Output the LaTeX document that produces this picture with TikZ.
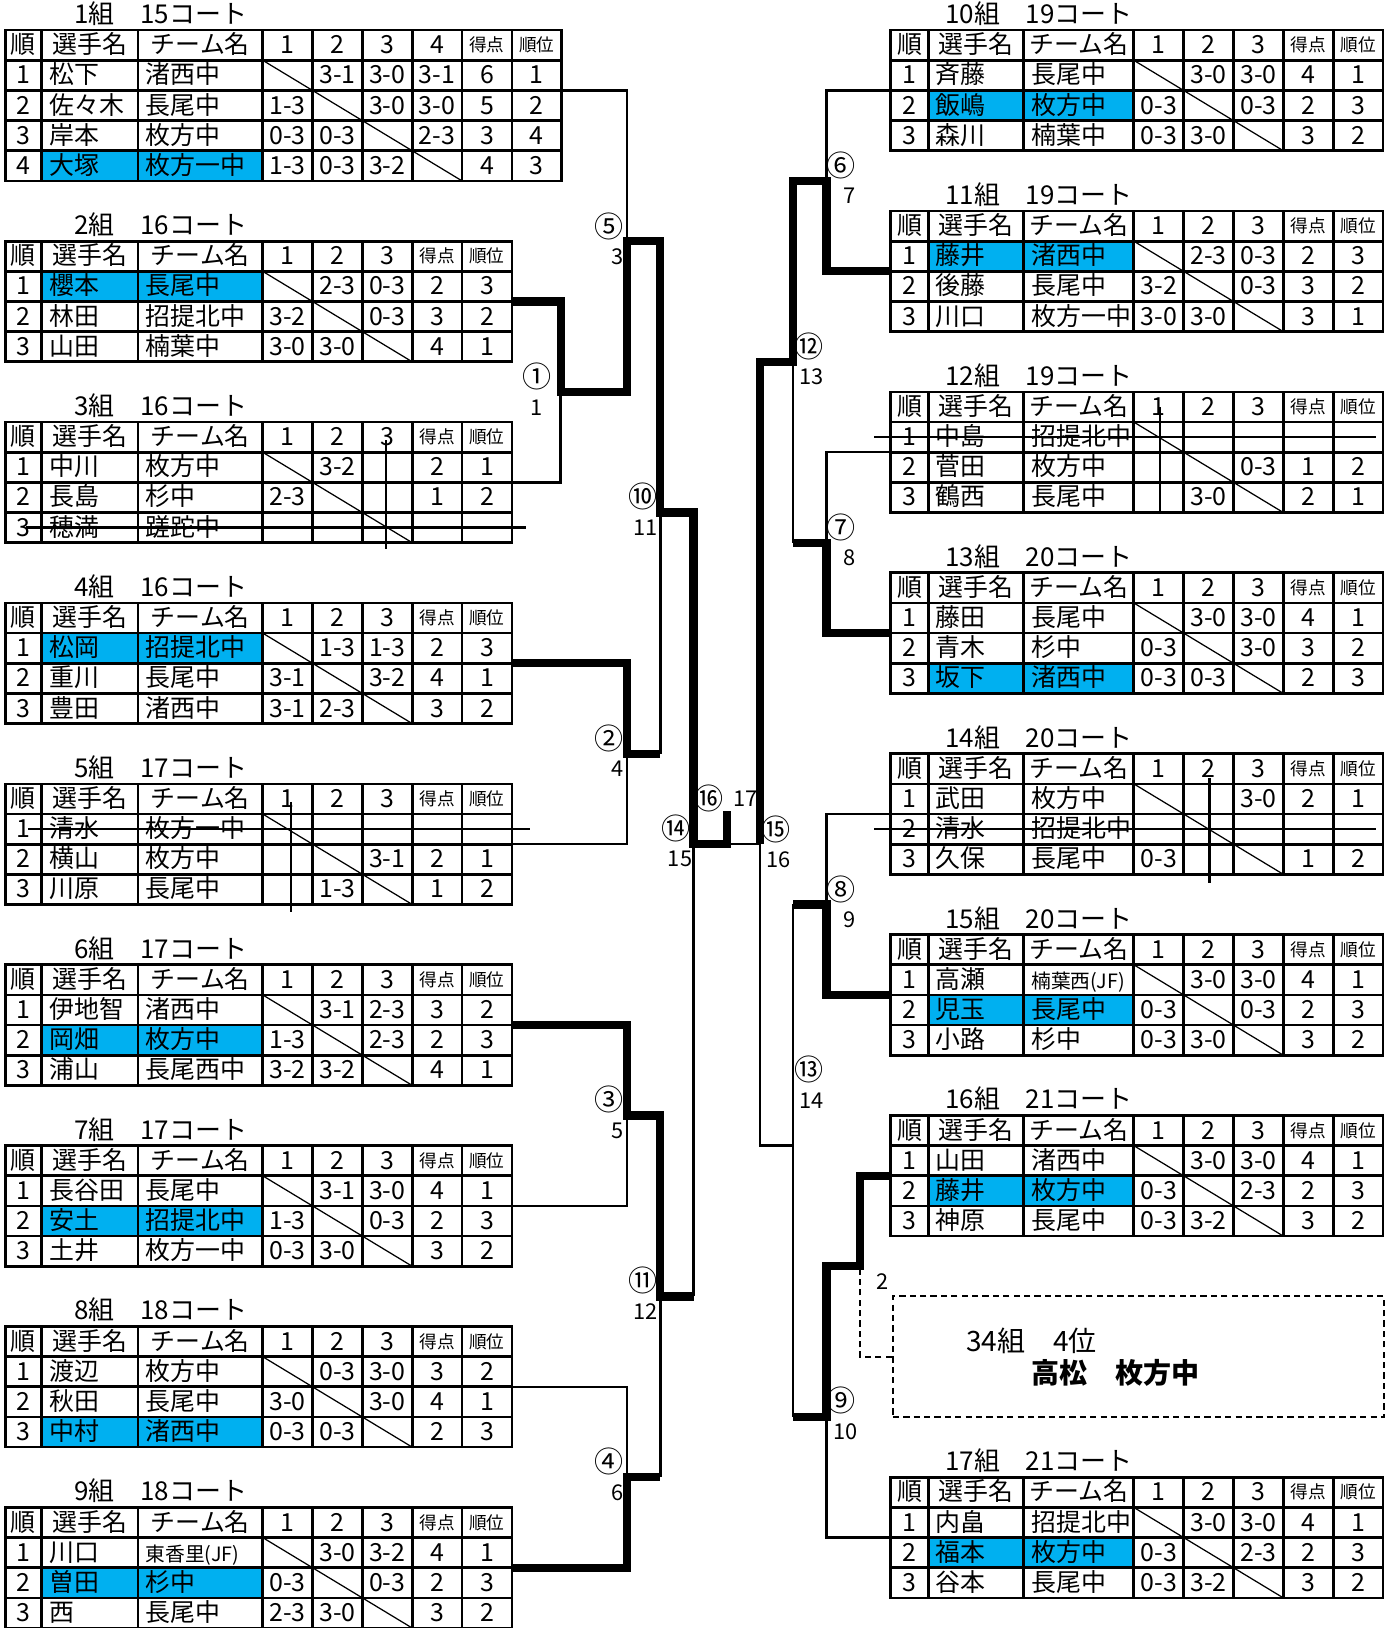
\documentclass[tikz,border=0pt]{standalone}
\usepackage{fontspec}
\setmainfont{Noto Sans CJK JP}
\definecolor{hlblue}{HTML}{00B0F0}
\tikzset{
  tblline/.style={line width=1.3pt,line cap=rect},
  diagline/.style={line width=0.6pt},
  winline/.style={line width=4pt,line join=miter},
  loseline/.style={line width=1.2pt},
  strikeline/.style={line width=1.1pt},
  dashline/.style={line width=1pt,dash pattern=on 3pt off 2pt},
  celltext/.style={inner sep=0pt,text height=10pt,text depth=1.8pt,font=\fontsize{12}{12}\selectfont},
  smalltext/.style={inner sep=0pt,text height=7.5pt,text depth=1.2pt,font=\fontsize{8.5}{8.5}\selectfont},
  titletext/.style={celltext,anchor=west,font=\fontsize{12.5}{12.5}\selectfont},
  matchlabel/.style={inner sep=0pt,font=\fontsize{10.5}{10.5}\selectfont},
  circlabel/.style={inner sep=0pt,font=\fontsize{14}{14}\selectfont},
  boxtext/.style={inner sep=0pt,anchor=west,font=\fontsize{13.5}{13.5}\selectfont},
  dashbox/.style={draw,dashline,minimum width=236.5pt,minimum height=58.07pt,inner sep=0pt},
}
\newcommand\setcols[6]{\def\side{#1}\def\cA{#2}\def\cB{#3}\def\cC{#4}\def\cD{#5}\def\titlex{#6}}
\newcommand\ttitle[2]{\node[titletext] (\side#1ti) at (\titlex,#1+0.5) {#2};}
\newcommand\hlrow[1]{\fill[hlblue] (\cB,#1) rectangle (\cC,#1+1); \fill[hlblue] (\cC,#1) rectangle (\cD,#1+1);}
\newcommand\tgrid[1]{%
  \foreach \k in {0,...,4} \draw[tblline] (\cA,#1+\k) -- (\cD+240,#1+\k);
  \foreach \xx in {\cA,\cB,\cC,\cD} \draw[tblline] (\xx,#1) -- (\xx,#1+4);
  \foreach \k in {1,...,5} \draw[tblline] (\cD+48*\k,#1) -- (\cD+48*\k,#1+4);
  \draw[diagline] (\cD,#1+1) -- (\cD+144,#1+4);
}
\newcommand\thead[1]{%
  \node[celltext] (\side#1h0) at ({(\cA+\cB)/2},#1+0.5) {順};
  \node[celltext] (\side#1h1) at ({(\cB+\cC)/2},#1+0.5) {選手名};
  \node[celltext] (\side#1h2) at ({(\cC+\cD)/2},#1+0.5) {チーム名};
  \node[celltext] (\side#1h3) at (\cD+24,#1+0.5) {1};
  \node[celltext] (\side#1h4) at (\cD+72,#1+0.5) {2};
  \node[celltext] (\side#1h5) at (\cD+120,#1+0.5) {3};
  \node[smalltext] (\side#1h6) at (\cD+168,#1+0.5) {得点};
  \node[smalltext] (\side#1h7) at (\cD+216,#1+0.5) {順位};
}
\newcommand\trow[9]{%
  \node[celltext] (\side#1n) at ({(\cA+\cB)/2},#1+0.5) {#2};
  \node[celltext,anchor=west] (\side#1p) at (\cB+7,#1+0.5) {#3};
  \node[celltext,anchor=west] (\side#1t) at (\cC+7,#1+0.5) {#4};
  \node[celltext] (\side#1a) at (\cD+24,#1+0.5) {#5};
  \node[celltext] (\side#1b) at (\cD+72,#1+0.5) {#6};
  \node[celltext] (\side#1c) at (\cD+120,#1+0.5) {#7};
  \node[celltext] (\side#1s) at (\cD+168,#1+0.5) {#8};
  \node[celltext] (\side#1r) at (\cD+216,#1+0.5) {#9};
}
\newcommand\trowF[9]{%
  \node[celltext] (\side#1n) at ({(\cA+\cB)/2},#1+0.5) {#2};
  \node[celltext,anchor=west] (\side#1p) at (\cB+7,#1+0.5) {#3};
  \node[celltext,anchor=west] (\side#1t) at (\cC+7,#1+0.5) {#4};
  \node[celltext] (\side#1a) at (\cD+24,#1+0.5) {#5};
  \node[celltext] (\side#1b) at (\cD+72,#1+0.5) {#6};
  \node[celltext] (\side#1c) at (\cD+120,#1+0.5) {#7};
  \node[celltext] (\side#1d) at (\cD+168,#1+0.5) {#8};
  \node[celltext] (\side#1s) at (\cD+216,#1+0.5) {#9};
}
\newcommand\rankF[2]{\node[celltext] (\side#1r) at (\cD+264,#1+0.5) {#2};}
\newcommand\jf[1]{{\fontsize{9.5}{9.5}\selectfont #1}}
\begin{document}
\begin{tikzpicture}[x={(0.5pt,0)},y={(0,-14.5185pt)}]
\useasboundingbox (0,0) rectangle (1343,54);

%================ LEFT =================
\setcols{L}{5}{40}{133}{253}{71}
% --- 1組 (4 players)
\ttitle{0}{1組　15コート}
\hlrow{5}
\foreach \k in {1,...,6} \draw[tblline] (5,\k) -- (541,\k);
\foreach \xx in {5,40,133,253,301,349,397,445,493,541} \draw[tblline] (\xx,1) -- (\xx,6);
\draw[diagline] (253,2) -- (445,6);
\node[celltext] (L1h0) at (22.5,1.5) {順};
\node[celltext] (L1h1) at (86.5,1.5) {選手名};
\node[celltext] (L1h2) at (193,1.5) {チーム名};
\node[celltext] (L1h3) at (277,1.5) {1};
\node[celltext] (L1h4) at (325,1.5) {2};
\node[celltext] (L1h5) at (373,1.5) {3};
\node[celltext] (L1h6) at (421,1.5) {4};
\node[smalltext] (L1h7) at (469,1.5) {得点};
\node[smalltext] (L1h8) at (517,1.5) {順位};
\trowF{2}{1}{松下}{渚西中}{}{3-1}{3-0}{3-1}{6}\rankF{2}{1}
\trowF{3}{2}{佐々木}{長尾中}{1-3}{}{3-0}{3-0}{5}\rankF{3}{2}
\trowF{4}{3}{岸本}{枚方中}{0-3}{0-3}{}{2-3}{3}\rankF{4}{4}
\trowF{5}{4}{大塚}{枚方一中}{1-3}{0-3}{3-2}{}{4}\rankF{5}{3}

% --- 2組
\ttitle{7}{2組　16コート}
\hlrow{9}\tgrid{8}\thead{8}
\trow{9}{1}{櫻本}{長尾中}{}{2-3}{0-3}{2}{3}
\trow{10}{2}{林田}{招提北中}{3-2}{}{0-3}{3}{2}
\trow{11}{3}{山田}{楠葉中}{3-0}{3-0}{}{4}{1}

% --- 3組
\ttitle{13}{3組　16コート}
\tgrid{14}\thead{14}
\trow{15}{1}{中川}{枚方中}{}{3-2}{}{2}{1}
\trow{16}{2}{長島}{杉中}{2-3}{}{}{1}{2}
\trow{17}{3}{穂満}{蹉跎中}{}{}{}{}{}

% --- 4組
\ttitle{19}{4組　16コート}
\hlrow{21}\tgrid{20}\thead{20}
\trow{21}{1}{松岡}{招提北中}{}{1-3}{1-3}{2}{3}
\trow{22}{2}{重川}{長尾中}{3-1}{}{3-2}{4}{1}
\trow{23}{3}{豊田}{渚西中}{3-1}{2-3}{}{3}{2}

% --- 5組
\ttitle{25}{5組　17コート}
\tgrid{26}\thead{26}
\trow{27}{1}{清水}{枚方一中}{}{}{}{}{}
\trow{28}{2}{横山}{枚方中}{}{}{3-1}{2}{1}
\trow{29}{3}{川原}{長尾中}{}{1-3}{}{1}{2}

% --- 6組
\ttitle{31}{6組　17コート}
\hlrow{34}\tgrid{32}\thead{32}
\trow{33}{1}{伊地智}{渚西中}{}{3-1}{2-3}{3}{2}
\trow{34}{2}{岡畑}{枚方中}{1-3}{}{2-3}{2}{3}
\trow{35}{3}{浦山}{長尾西中}{3-2}{3-2}{}{4}{1}

% --- 7組
\ttitle{37}{7組　17コート}
\hlrow{40}\tgrid{38}\thead{38}
\trow{39}{1}{長谷田}{長尾中}{}{3-1}{3-0}{4}{1}
\trow{40}{2}{安土}{招提北中}{1-3}{}{0-3}{2}{3}
\trow{41}{3}{土井}{枚方一中}{0-3}{3-0}{}{3}{2}

% --- 8組
\ttitle{43}{8組　18コート}
\hlrow{47}\tgrid{44}\thead{44}
\trow{45}{1}{渡辺}{枚方中}{}{0-3}{3-0}{3}{2}
\trow{46}{2}{秋田}{長尾中}{3-0}{}{3-0}{4}{1}
\trow{47}{3}{中村}{渚西中}{0-3}{0-3}{}{2}{3}

% --- 9組
\ttitle{49}{9組　18コート}
\hlrow{52}\tgrid{50}\thead{50}
\trow{51}{1}{川口}{\jf{東香里(JF)}}{}{3-0}{3-2}{4}{1}
\trow{52}{2}{曽田}{杉中}{0-3}{}{0-3}{2}{3}
\trow{53}{3}{西}{長尾中}{2-3}{3-0}{}{3}{2}

%================ RIGHT =================
\setcols{R}{858}{894}{986}{1092}{910}
\ttitle{0}{10組　19コート}
\hlrow{3}\tgrid{1}\thead{1}
\trow{2}{1}{斉藤}{長尾中}{}{3-0}{3-0}{4}{1}
\trow{3}{2}{飯嶋}{枚方中}{0-3}{}{0-3}{2}{3}
\trow{4}{3}{森川}{楠葉中}{0-3}{3-0}{}{3}{2}

\ttitle{6}{11組　19コート}
\hlrow{8}\tgrid{7}\thead{7}
\trow{8}{1}{藤井}{渚西中}{}{2-3}{0-3}{2}{3}
\trow{9}{2}{後藤}{長尾中}{3-2}{}{0-3}{3}{2}
\trow{10}{3}{川口}{枚方一中}{3-0}{3-0}{}{3}{1}

\ttitle{12}{12組　19コート}
\tgrid{13}\thead{13}
\trow{14}{1}{中島}{招提北中}{}{}{}{}{}
\trow{15}{2}{菅田}{枚方中}{}{}{0-3}{1}{2}
\trow{16}{3}{鶴西}{長尾中}{}{3-0}{}{2}{1}

\ttitle{18}{13組　20コート}
\hlrow{22}\tgrid{19}\thead{19}
\trow{20}{1}{藤田}{長尾中}{}{3-0}{3-0}{4}{1}
\trow{21}{2}{青木}{杉中}{0-3}{}{3-0}{3}{2}
\trow{22}{3}{坂下}{渚西中}{0-3}{0-3}{}{2}{3}

\ttitle{24}{14組　20コート}
\tgrid{25}\thead{25}
\trow{26}{1}{武田}{枚方中}{}{}{3-0}{2}{1}
\trow{27}{2}{清水}{招提北中}{}{}{}{}{}
\trow{28}{3}{久保}{長尾中}{0-3}{}{}{1}{2}

\ttitle{30}{15組　20コート}
\hlrow{33}\tgrid{31}\thead{31}
\trow{32}{1}{高瀬}{\jf{楠葉西(JF)}}{}{3-0}{3-0}{4}{1}
\trow{33}{2}{児玉}{長尾中}{0-3}{}{0-3}{2}{3}
\trow{34}{3}{小路}{杉中}{0-3}{3-0}{}{3}{2}

\ttitle{36}{16組　21コート}
\hlrow{39}\tgrid{37}\thead{37}
\trow{38}{1}{山田}{渚西中}{}{3-0}{3-0}{4}{1}
\trow{39}{2}{藤井}{枚方中}{0-3}{}{2-3}{2}{3}
\trow{40}{3}{神原}{長尾中}{0-3}{3-2}{}{3}{2}

\ttitle{48}{17組　21コート}
\hlrow{51}\tgrid{49}\thead{49}
\trow{50}{1}{内畠}{招提北中}{}{3-0}{3-0}{4}{1}
\trow{51}{2}{福本}{枚方中}{0-3}{}{2-3}{2}{3}
\trow{52}{3}{谷本}{長尾中}{0-3}{3-2}{}{3}{2}

% --- struck-out entries
\draw[strikeline] (25,17.5) -- (507,17.5);
\draw[strikeline] (372,14.6) -- (372,18.2);
\draw[strikeline] (27,27.5) -- (510,27.5);
\draw[strikeline] (280,26.6) -- (280,30.25);
\draw[strikeline] (842,14.5) -- (1325,14.5);
\draw[strikeline] (1117,13.5) -- (1117,17.05);
\draw[strikeline] (842,27.5) -- (1325,27.5);
\draw[strikeline] (1165,25.8) -- (1165,29.3);

% --- box
\node[dashbox] (box34) at (1096.5,45) {};
\node[boxtext] (box34a) at (930,44.49) {34組　4位};
\node[boxtext,font=\fontsize{13.5}{13.5}\selectfont\bfseries] (box34b) at (993,45.53) {高松　枚方中};

% --- match labels
\node[circlabel] (c1) at (517,12.5) {①};  \node[matchlabel] (n1) at (517,13.53) {1};
\node[circlabel] (c5) at (587,7.5) {⑤};   \node[matchlabel] (n5) at (595,8.5) {3};
\node[circlabel] (c2) at (587,24.5) {②};  \node[matchlabel] (n2) at (595,25.5) {4};
\node[circlabel] (c10) at (619,16.46) {⑩}; \node[matchlabel] (n10) at (622,17.5) {11};
\node[circlabel] (c3) at (587,36.47) {③}; \node[matchlabel] (n3) at (595,37.5) {5};
\node[circlabel] (c11) at (619,42.46) {⑪}; \node[matchlabel] (n11) at (622,43.5) {12};
\node[circlabel] (c4) at (587,48.49) {④}; \node[matchlabel] (n4) at (595,49.5) {6};
\node[circlabel] (c14) at (651,27.48) {⑭}; \node[matchlabel] (n14) at (655,28.5) {15};
\node[circlabel] (c16) at (683,26.5) {⑯}; \node[matchlabel] (n16) at (718,26.5) {17};
\node[circlabel] (c15) at (747,27.5) {⑮}; \node[matchlabel] (n15) at (750,28.5) {16};
\node[circlabel] (c6) at (810,5.5) {⑥};   \node[matchlabel] (n6) at (818,6.5) {7};
\node[circlabel] (c12) at (779,11.5) {⑫}; \node[matchlabel] (n12) at (782,12.5) {13};
\node[circlabel] (c7) at (810,17.5) {⑦};  \node[matchlabel] (n7) at (818,18.5) {8};
\node[circlabel] (c8) at (810,29.5) {⑧};  \node[matchlabel] (n8) at (818,30.5) {9};
\node[circlabel] (c13) at (779,35.47) {⑬}; \node[matchlabel] (n13) at (782,36.5) {14};
\node[circlabel] (c9) at (810,46.46) {⑨}; \node[matchlabel] (n9) at (814,47.5) {10};
\node[matchlabel] (n2b) at (850,42.5) {2};

% --- bracket coordinates
\coordinate (t1) at (541,3);
\coordinate (t2) at (493,10);
\coordinate (t3) at (493,16);
\coordinate (t4) at (493,22);
\coordinate (t5) at (493,28);
\coordinate (t6) at (493,34);
\coordinate (t7) at (493,40);
\coordinate (t8) at (493,46);
\coordinate (t9) at (493,52);
\coordinate (m1) at (540,13);
\coordinate (m5) at (604,8);
\coordinate (m2) at (604,25);
\coordinate (m3) at (604,37);
\coordinate (m4) at (604,49);
\coordinate (m10) at (636,17);
\coordinate (m11) at (636,43);
\coordinate (m14) at (668,28);
\coordinate (m16) at (700,28);
\coordinate (m16t) at (700,26.9);
\coordinate (t10) at (858,3);
\coordinate (t11) at (858,9);
\coordinate (t12) at (858,15);
\coordinate (t13) at (858,21);
\coordinate (t14) at (858,27);
\coordinate (t15) at (858,33);
\coordinate (t16) at (858,39);
\coordinate (t17) at (858,51);
\coordinate (m6) at (796,6);
\coordinate (m7) at (796,18);
\coordinate (m8) at (796,30);
\coordinate (m9) at (796,47);
\coordinate (s16) at (828,42);
\coordinate (m12) at (764,12);
\coordinate (m13) at (764,38);
\coordinate (m15) at (732,28);

% --- thin (losing) lines
\draw[loseline] (t1) -| (m5);
\draw[loseline] (t3) -| (m1);
\draw[loseline] (t5) -| (m2);
\draw[loseline] (m2 -| m10) -- (m10);
\draw[loseline] (t7) -| (m3);
\draw[loseline] (t8) -| (m4);
\draw[loseline] (m4 -| m11) -- (m11);
\draw[loseline] (m11 -| m14) -- (m14);
\draw[loseline] (t10) -| (m6);
\draw[loseline] (t12) -| (m7);
\draw[loseline] (m7 -| m12) -- (m12);
\draw[loseline] (t14) -| (m8);
\draw[loseline] (m8 -| m13) -- (m13);
\draw[loseline] (t17) -| (m9);
\draw[loseline] (m9 -| m13) -- (m13);
\draw[loseline] (m13) -| (m15);
\draw[loseline] (m15) -- (m16);
\draw[dashline] (box34.west) -| (s16);

% --- thick (winning) lines
\draw[winline] (t2) -| (m1) -| (m5) -| (m10) -| (m14) -- (m16) -- (m16t);
\draw[winline] (t4) -| (m2) -- (m2 -| m10);
\draw[winline] (t6) -| (m3) -| (m11) -- (m11 -| m14);
\draw[winline] (t9) -| (m4) -- (m4 -| m11);
\draw[winline] (t11) -| (m6) -| (m12) -| (m15);
\draw[winline] (t13) -| (m7) -- (m7 -| m12);
\draw[winline] (t15) -| (m8) -- (m8 -| m13);
\draw[winline] (t16) -| (s16) -| (m9) -- (m9 -| m13);
\end{tikzpicture}
\end{document}
